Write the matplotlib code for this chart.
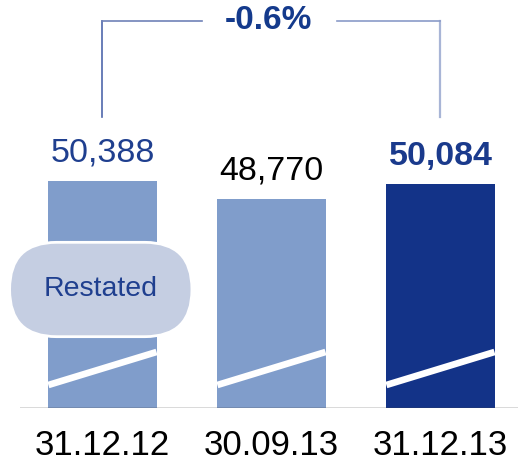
import matplotlib
matplotlib.use("Agg")
import matplotlib.pyplot as plt

plt.rcParams['font.family'] = ['Liberation Sans', 'DejaVu Sans']

categories = ["31.12.12", "30.09.13", "31.12.13"]
values = [50388, 48770, 50084]
value_labels = ["50,388", "48,770", "50,084"]
change_label = "-0.6%"
restated_label = "Restated"

bar_colors = ["#809dcb", "#809dcb", "#133388"]
label_colors = ["#1f3f8f", "#000000", "#1a3a8c"]
label_weights = ["normal", "normal", "bold"]

W, H = 518, 462
fig = plt.figure(figsize=(W / 100, H / 100), dpi=100)
ax = fig.add_axes([20 / W, 54 / H, 498 / W, 408 / H])

y0 = 30000
upp = 89.8  # value units per pixel
ax.set_ylim(y0, y0 + 408 * upp)
ax.set_xlim(-0.488, 2.459)

x = list(range(len(categories)))
bw = 0.64
bars = ax.bar(x, [v - y0 for v in values], bottom=y0, width=bw, color=bar_colors, zorder=2)

# break marks
for xi in x:
    ax.plot([xi - bw / 2, xi + bw / 2], [y0 + 23 * upp, y0 + 56 * upp],
            color="white", lw=4.8, solid_capstyle="butt", zorder=3)

# baseline
ax.axhline(y0, color="#444444", lw=1.0, zorder=4)

# value labels
for xi, v, lab, c, w in zip(x, values, value_labels, label_colors, label_weights):
    ax.annotate(lab, xy=(xi, v), xytext=(0, 13.7), textcoords="offset points",
                ha="center", va="baseline", fontsize=24.5, color=c, fontweight=w)

# category labels
for xi, cat in zip(x, categories):
    ax.annotate(cat, xy=(xi, 0), xycoords=("data", "axes fraction"),
                xytext=(0, -33.8), textcoords="offset points",
                ha="center", va="baseline", fontsize=25, color="black")

# bracket
yb_top = y0 + 387 * upp
yb_bot = y0 + 291 * upp
ax.plot([x[0], x[0]], [yb_bot, yb_top], color="#4f67ab", lw=1.2, zorder=2)
ax.plot([x[2], x[2]], [yb_bot, yb_top], color="#a8b5d6", lw=1.6, zorder=2)
ax.plot([x[0], 0.589], [yb_top, yb_top], color="#6f82b8", lw=1.2)
ax.plot([1.388, x[2]], [yb_top, yb_top], color="#8a9bc8", lw=1.2)
ax.text(1 - 0.015, yb_top, change_label, ha="center", va="center",
        fontsize=24, fontweight="bold", color="#143a8c")

# restated pill
ax.text(x[0] - 0.01, y0 + 118.5 * upp, restated_label, ha="center", va="center",
        fontsize=20.5, color="#1f3f8f", zorder=5,
        bbox=dict(boxstyle="round,pad=1.2,rounding_size=1.65",
                  facecolor="#c5cee2", edgecolor="white", lw=2))

ax.axis("off")
fig.savefig("out.png", dpi=100)
